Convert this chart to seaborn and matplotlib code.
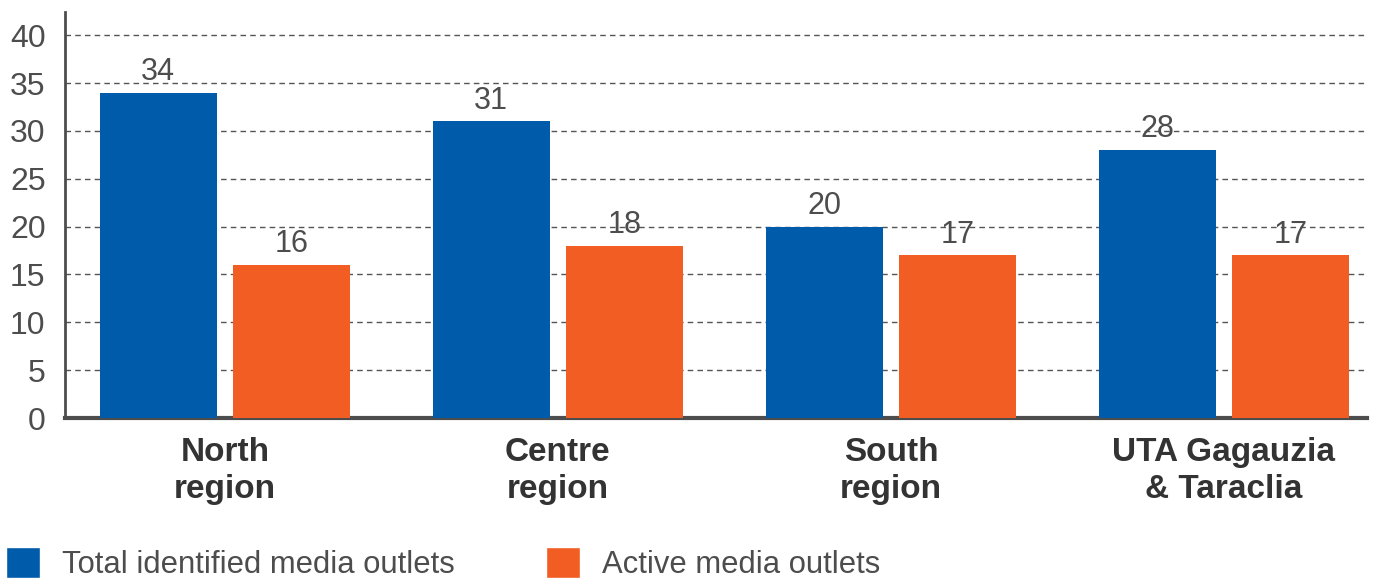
import matplotlib
matplotlib.use("Agg")
import matplotlib.pyplot as plt
import seaborn as sns
import pandas as pd
from matplotlib.patches import Patch

# Media outlets per region
regions = ["North\nregion", "Centre\nregion", "South\nregion", "UTA Gagauzia\n& Taraclia"]
total_outlets = [34, 31, 20, 28]
active_outlets = [16, 18, 17, 17]
series_names = ["Total identified media outlets", "Active media outlets"]
y_ticks = [0, 5, 10, 15, 20, 25, 30, 35, 40]

BLUE = "#005BAA"
ORANGE = "#F15D22"
TEXT = "#4d4d4d"

df = pd.DataFrame({
    "region": regions * 2,
    "series": [series_names[0]] * len(regions) + [series_names[1]] * len(regions),
    "count": total_outlets + active_outlets,
})

sns.set_theme(style="white")
plt.rcParams["font.family"] = ["Liberation Sans", "DejaVu Sans"]

fig = plt.figure(figsize=(13.75, 5.83), dpi=100)
ax = fig.add_axes([0.0473, 0.283, 0.947, 0.696])

sns.barplot(data=df, x="region", y="count", hue="series",
            palette=[BLUE, ORANGE], width=0.8, gap=0.12,
            saturation=1, legend=False, ax=ax, zorder=3, linewidth=0)

for cont in ax.containers:
    ax.bar_label(cont, labels=[f"{v:.0f}" for v in cont.datavalues],
                 padding=4, fontsize=22, color=TEXT)

ax.set_ylim(0, 42.4)
ax.set_xlim(-0.48, 3.43)
ax.set_yticks(y_ticks)
ax.set_xlabel("")
ax.set_ylabel("")

ax.yaxis.grid(True, linestyle=(0, (4, 3)), color="#555555", linewidth=1.0, zorder=0)
ax.xaxis.grid(False)
ax.set_axisbelow(True)

for s in ["top", "right"]:
    ax.spines[s].set_visible(False)
ax.spines["left"].set_color(TEXT)
ax.spines["left"].set_linewidth(2)
ax.spines["bottom"].set_color(TEXT)
ax.spines["bottom"].set_linewidth(3)

ax.tick_params(axis="y", length=0, pad=14, labelsize=23, labelcolor=TEXT)
ax.tick_params(axis="x", length=0, pad=14)
for lbl in ax.get_xticklabels():
    lbl.set_fontsize(24)
    lbl.set_fontweight("bold")
    lbl.set_color("#333333")
    lbl.set_linespacing(1.22)

handles = [Patch(facecolor=BLUE), Patch(facecolor=ORANGE)]
leg = fig.legend(handles, series_names, loc="lower left",
                 bbox_to_anchor=(0.004, 0.005), ncol=2, frameon=False,
                 handlelength=1.1, handleheight=1.15, handletextpad=0.72,
                 columnspacing=2.95, borderaxespad=0.0, borderpad=0.0,
                 prop={"size": 22.3})
for t in leg.get_texts():
    t.set_color(TEXT)

fig.savefig("out.png", dpi=100)
